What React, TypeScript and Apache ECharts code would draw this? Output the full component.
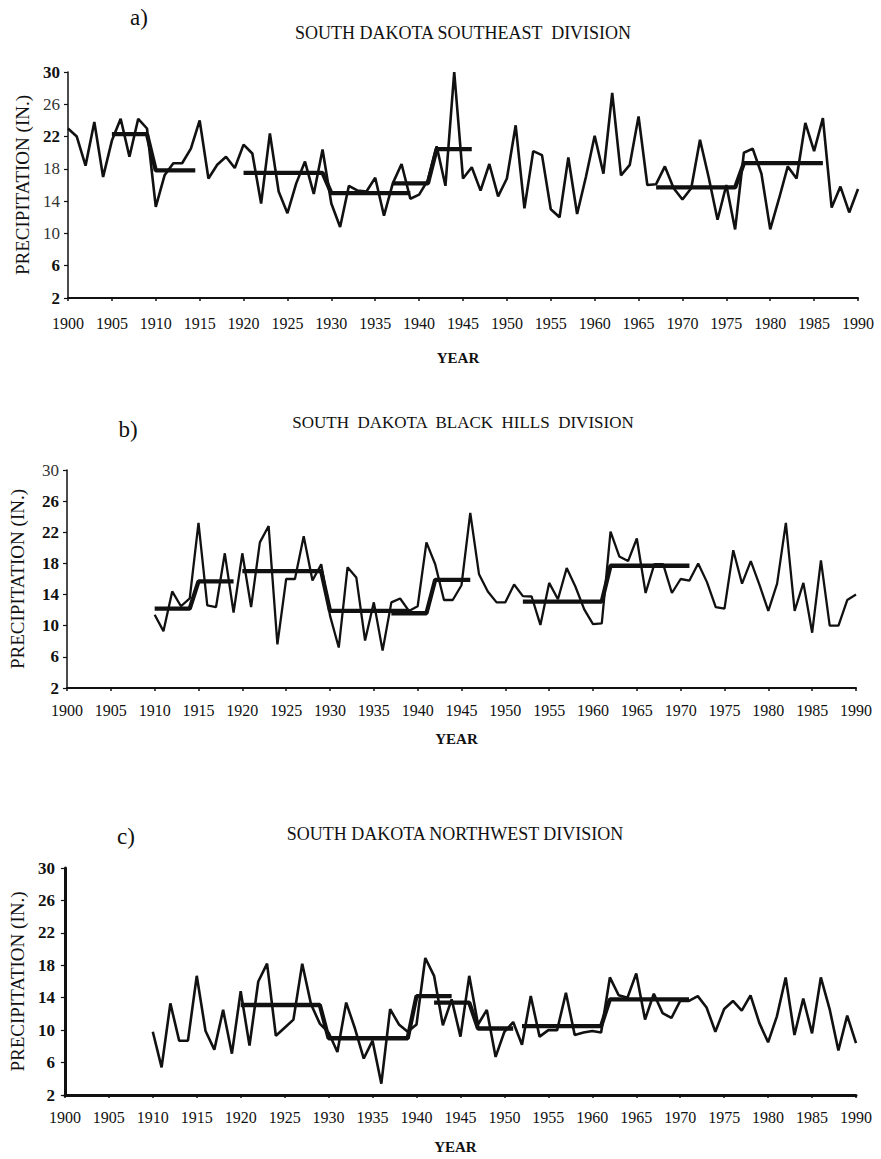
import React, { useEffect, useRef } from "react";
import * as echarts from "echarts";

const startA = 1900;
const precipA = [
  23.0, 22.0, 18.4, 23.8, 17.0, 21.5, 24.2, 19.5, 24.2, 23.0,
  13.3, 17.2, 18.7, 18.7, 20.5, 24.0, 16.8, 18.5, 19.5, 18.1,
  21.0, 19.9, 13.7, 22.4, 15.2, 12.5, 16.2, 18.9, 14.9, 20.4,
  13.7, 10.8, 15.9, 15.3, 15.2, 16.9, 12.2, 16.2, 18.6, 14.3,
  14.8, 16.6, 20.8, 15.9, 30.0, 16.8, 18.2, 15.3, 18.6, 14.6,
  16.8, 23.4, 13.1, 20.2, 19.7, 13.0, 12.0, 19.4, 12.4, 17.0,
  22.1, 17.4, 27.4, 17.2, 18.5, 24.5, 16.0, 16.1, 18.3, 15.6,
  14.2, 15.6, 21.6, 16.9, 11.7, 16.0, 10.5, 20.0, 20.5, 17.4,
  10.5, 14.3, 18.3, 16.8, 23.7, 20.2, 24.3, 13.2, 15.8, 12.6,
  15.5,
];

const startB = 1910;
const precipB = [
  11.4, 9.3, 14.4, 12.5, 13.5, 23.2, 12.6, 12.4, 19.3, 11.7,
  19.3, 12.4, 20.7, 22.8, 7.6, 16.0, 16.0, 21.5, 15.8, 17.9,
  11.3, 7.2, 17.5, 16.2, 8.1, 13.0, 6.8, 13.0, 13.5, 11.9,
  12.5, 20.7, 17.9, 13.3, 13.3, 15.2, 24.5, 16.6, 14.4, 13.0,
  13.0, 15.3, 13.8, 13.75, 10.1, 15.5, 13.4, 17.4, 15.0, 12.1,
  10.2, 10.3, 22.1, 18.9, 18.3, 21.2, 14.2, 17.9, 17.9, 14.2,
  16.0, 15.8, 18.0, 15.6, 12.4, 12.2, 19.7, 15.4, 18.3, 15.2,
  11.9, 15.4, 23.2, 11.9, 15.5, 9.1, 18.4, 10.0, 10.0, 13.3,
  14.0,
];

const startC = 1910;
const precipC = [
  9.8, 5.4, 13.3, 8.7, 8.7, 16.7, 9.9, 7.6, 12.5, 7.1,
  14.8, 8.1, 16.0, 18.2, 9.3, 10.3, 11.3, 18.2, 13.2, 10.8,
  9.7, 7.3, 13.4, 10.2, 6.5, 8.7, 3.4, 12.6, 10.7, 9.8,
  10.7, 18.9, 16.7, 10.6, 13.8, 9.2, 16.7, 10.7, 12.5, 6.7,
  9.8, 11.0, 8.2, 14.2, 9.2, 10.0, 10.0, 14.6, 9.4, 9.7,
  9.9, 9.7, 16.5, 14.3, 14.0, 17.0, 11.3, 14.5, 12.1, 11.5,
  13.6, 13.6, 14.2, 12.8, 9.8, 12.6, 13.6, 12.4, 14.3, 10.9,
  8.5, 11.7, 16.5, 9.4, 13.9, 9.6, 16.5, 12.6, 7.5, 11.8,
  8.4,
];

// step (segment mean) lines: [year, mean]
const stepsA = [
  [[1905, 22.3], [1909, 22.3], [1910, 17.8], [1914.5, 17.8]],
  [[1920, 17.5], [1929, 17.5], [1930, 15.0], [1939, 15.0]],
  [[1937, 16.2], [1941, 16.2], [1942, 20.45], [1946, 20.45]],
  [[1967, 15.7], [1976, 15.7], [1977, 18.7], [1986, 18.7]],
];
const stepsB = [
  [[1910, 12.2], [1914, 12.2], [1915, 15.7], [1919, 15.7]],
  [[1920, 17.0], [1929, 17.0], [1930, 11.9], [1939, 11.9]],
  [[1937, 11.6], [1941, 11.6], [1942, 15.9], [1946, 15.9]],
  [[1952, 13.1], [1961, 13.1], [1962, 17.7], [1971, 17.7]],
];
const stepsC = [
  [[1920, 13.1], [1929, 13.1], [1930, 9.0], [1939, 9.0], [1940, 14.2], [1944, 14.2]],
  [[1942, 13.4], [1946, 13.4], [1947, 10.2], [1951, 10.2]],
  [[1952, 10.5], [1961, 10.5], [1962, 13.8], [1971, 13.8]],
];

const titles = [
  "SOUTH DAKOTA SOUTHEAST  DIVISION",
  "SOUTH  DAKOTA  BLACK  HILLS  DIVISION",
  "SOUTH DAKOTA NORTHWEST DIVISION",
];
const panelTags = ["a)", "b)", "c)"];
const boldTicks = [
  [30, 22, 6, 2],
  [26, 22, 18, 14, 10, 6, 2],
  [30, 26, 22, 18, 14, 10, 6, 2],
];

const SERIF = "Liberation Serif";
const NARROW = "Liberation Sans Narrow";
const INK = "#111";

function toPairs(start: number, vals: number[]) {
  return vals.map((v, i) => [start + i, v]);
}

export default function App() {
  const ref = useRef<HTMLDivElement>(null);
  useEffect(() => {
    if (!ref.current) return;
    const chart = echarts.init(ref.current, null, { renderer: "svg" });

    const grids = [
      { left: 68, top: 72, width: 790, height: 226 },
      { left: 67, top: 470, width: 789, height: 218 },
      { left: 62, top: 868, width: 794, height: 227 },
    ];
    const yLineW = [1.5, 1.5, 3];
    const xLineW = [2, 2, 3];
    const yearGap = [52, 43, 44];
    const yNameGap = [36, 40, 36];
    const dataW = [2.6, 2.3, 2.6];

    const xAxis = grids.map((_, i) => ({
      type: "value",
      gridIndex: i,
      min: 1900,
      max: 1990,
      interval: 5,
      name: "YEAR",
      nameLocation: "middle",
      nameGap: yearGap[i],
      nameTextStyle: {
        color: INK,
        fontFamily: SERIF,
        fontSize: 15,
        fontWeight: "bold",
        padding: [0, 0, 0, -10],
      },
      axisLine: { show: true, onZero: false, lineStyle: { color: INK, width: xLineW[i] } },
      axisTick: { show: true, length: 3, lineStyle: { color: INK, width: 1.5 } },
      axisLabel: {
        color: INK,
        fontFamily: SERIF,
        fontSize: 16,
        margin: i === 0 ? 17 : 14,
        formatter: (v: number) => String(v),
      },
      splitLine: { show: false },
    }));

    const yAxis = grids.map((_, i) => ({
      type: "value",
      gridIndex: i,
      min: 2,
      max: 30,
      interval: 4,
      name: "PRECIPITATION (IN.)",
      nameLocation: "middle",
      nameGap: yNameGap[i],
      nameTextStyle: { color: INK, fontFamily: SERIF, fontSize: 19 },
      axisLine: { show: true, onZero: false, lineStyle: { color: INK, width: yLineW[i] } },
      axisTick: { show: true, length: 4, lineStyle: { color: INK, width: 1.2 } },
      axisLabel: {
        margin: i === 2 ? 10 : 8,
        color: INK,
        fontFamily: SERIF,
        fontSize: 17,
        fontWeight: "bold",
        formatter: (v: number) => (boldTicks[i].includes(v) ? `${v}` : `{n|${v}}`),
        rich: {
          n: { fontFamily: SERIF, fontSize: 17, fontWeight: "normal", color: "#333" },
        },
      },
      splitLine: { show: false },
    }));

    const series: any[] = [];
    const mains = [toPairs(startA, precipA), toPairs(startB, precipB), toPairs(startC, precipC)];
    mains.forEach((d, i) => {
      series.push({
        type: "line",
        xAxisIndex: i,
        yAxisIndex: i,
        data: d,
        showSymbol: false,
        symbol: "none",
        lineStyle: { color: INK, width: dataW[i] },
        z: 3,
      });
    });
    [stepsA, stepsB, stepsC].forEach((groups, i) => {
      groups.forEach((g) => {
        series.push({
          type: "line",
          xAxisIndex: i,
          yAxisIndex: i,
          data: g,
          showSymbol: false,
          symbol: "none",
          lineStyle: { color: INK, width: 4.3 },
          z: 4,
        });
      });
    });

    const titleTop = [24, 414, 825];
    const titleLeft = [463, 463, 455];
    const titleSize = [18, 17, 18];
    const tagTop = [6, 418, 825];
    const tagLeft = [139, 128, 126];

    const title: any[] = [];
    for (let i = 0; i < 3; i++) {
      title.push({
        text: titles[i],
        left: titleLeft[i],
        top: titleTop[i],
        textAlign: "center",
        padding: 0,
        textStyle: { color: INK, fontFamily: SERIF, fontSize: titleSize[i], fontWeight: "normal" },
      });
      title.push({
        text: panelTags[i],
        left: tagLeft[i],
        top: tagTop[i],
        textAlign: "center",
        padding: 0,
        textStyle: { color: INK, fontFamily: NARROW, fontSize: 23, fontWeight: "normal" },
      });
    }

    chart.setOption({
      animation: false,
      backgroundColor: "#ffffff",
      title,
      grid: grids,
      xAxis,
      yAxis,
      series,
    });
    return () => chart.dispose();
  }, []);

  return (
    <div
      ref={ref}
      style={{ position: "absolute", left: 0, top: 0, width: 881, height: 1159, background: "#fff" }}
    />
  );
}
